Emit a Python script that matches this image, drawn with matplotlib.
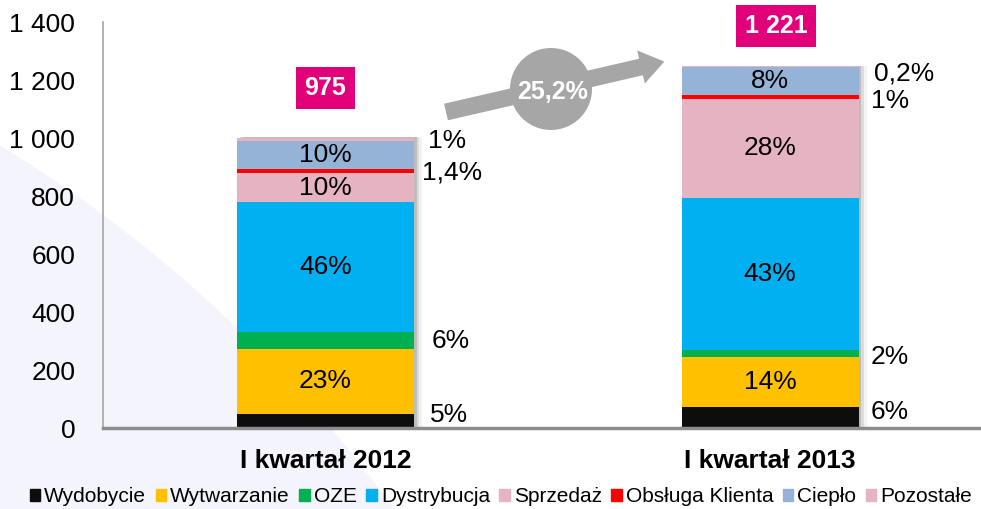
import matplotlib.pyplot as plt
from matplotlib.patches import Circle, FancyArrow, Patch
from matplotlib.ticker import FuncFormatter
import numpy as np

plt.rcParams['font.family'] = ['Liberation Sans', 'DejaVu Sans']

# dane
kwartaly = ['I kwartał 2012', 'I kwartał 2013']
sumy = ['975', '1 221']
zmiana = '25,2%'
segmenty = ['Wydobycie', 'Wytwarzanie', 'OZE', 'Dystrybucja', 'Sprzedaż',
            'Obsługa Klienta', 'Ciepło', 'Pozostałe']
wartosci_2012 = [49, 224, 58, 449, 98, 14, 98, 10]
wartosci_2013 = [73, 171, 24, 525, 342, 12, 98, 2]
procenty_2012 = ['5%', '23%', '6%', '46%', '10%', '1,4%', '10%', '1%']
procenty_2013 = ['6%', '14%', '2%', '43%', '28%', '1%', '8%', '0,2%']

kolory = ['#0d0d0d', '#ffc000', '#00b050', '#00b0f0', '#e6b3c3',
          '#ff0000', '#95b3d7', '#e6b3c3']
w_srodku = [1, 3, 4, 6]          # etykiety wewnatrz slupka
# przesuniecia etykiet bocznych (px): indeks -> (dx, dy)
boczne = [{0: (16, 6), 2: (18, -1), 5: (8, -1), 7: (14, -2)},
          {0: (12, 5), 2: (12, -3), 5: (12, -4), 7: (15, -7)}]

fig = plt.figure(figsize=(9.81, 5.09), dpi=100)

# tlo - jasny okrag
bg = fig.add_axes([0, 0, 1, 1], zorder=-1)
bg.set_xlim(0, 981)
bg.set_ylim(509, 0)
bg.axis('off')
bg.add_patch(Circle((-700, 1300), 1350, color='#f3f4fc', lw=0))

ax = fig.add_axes([103 / 981, 1 - 428 / 509, 1 - 103 / 981, 406 / 509], zorder=1)
ax.set_facecolor('none')

x = np.arange(len(kwartaly))
szer = 0.398
dane = np.array([wartosci_2012, wartosci_2013])
razem = dane.sum(axis=1)

# cien slupkow
for d, a in [(0.018, 0.08), (0.012, 0.15), (0.006, 0.25)]:
    ax.bar(x + d, razem + 3, szer, color='#606060', alpha=a, lw=0, zorder=1)

dol = np.zeros(len(kwartaly))
for i, seg in enumerate(segmenty):
    ax.bar(x, dane[:, i], szer, bottom=dol, color=kolory[i], lw=0, zorder=2, label=seg)
    dol += dane[:, i]

procenty = [procenty_2012, procenty_2013]
for j in range(len(kwartaly)):
    cum = np.concatenate([[0], np.cumsum(dane[j])])
    for i in range(len(segmenty)):
        srodek = (cum[i] + cum[i + 1]) / 2
        if i in w_srodku:
            ax.text(x[j], srodek, procenty[j][i], ha='center', va='center',
                    fontsize=19, color='black', zorder=4)
        else:
            dx, dy = boczne[j][i]
            ax.annotate(procenty[j][i], (x[j] + szer / 2, srodek),
                        xytext=(dx * 0.72, dy * 0.72), textcoords='offset points',
                        ha='left', va='center', fontsize=19, zorder=4)

# sumy w ramkach
poz_sum = [(0.0, 1171), (1.013, 1387)]
for (px, py), s in zip(poz_sum, sumy):
    ax.text(px, py, s, ha='center', va='center', fontsize=18, fontweight='bold',
            color='white', zorder=5,
            bbox=dict(boxstyle='square,pad=0.36', fc='#e2007a', ec='none'))

ax.set_xlim(-0.5, 1.474)
ax.set_ylim(0, 1400)
ax.set_yticks(np.arange(0, 1401, 200))
ax.yaxis.set_major_formatter(FuncFormatter(lambda v, p: f'{v:,.0f}'.replace(',', ' ')))
ax.set_xticks(x)
ax.set_xticklabels(kwartaly, fontsize=19, fontweight='bold')
ax.tick_params(axis='y', length=0, pad=20, labelsize=19)
ax.tick_params(axis='x', length=0, pad=15)
for s in ['top', 'right']:
    ax.spines[s].set_visible(False)
ax.spines['left'].set_color('#a6a6a6')
ax.spines['left'].set_linewidth(1.2)
ax.spines['bottom'].set_color('#8c8c8c')
ax.spines['bottom'].set_linewidth(2.5)

# strzalka ze zmiana
ov = fig.add_axes([0, 0, 1, 1], zorder=3)
ov.set_xlim(0, 981)
ov.set_ylim(509, 0)
ov.axis('off')
ov.add_patch(FancyArrow(446, 112, 195, -45, width=17, head_width=34, head_length=24,
                        length_includes_head=False, color='#a6a6a6', lw=0))
ov.add_patch(Circle((551, 89), 41, color='#a6a6a6', lw=0))
ov.text(553, 92, zmiana, ha='center', va='center', fontsize=18,
        fontweight='bold', color='white')

uchwyty = [Patch(color=k, label=s) for k, s in zip(kolory, segmenty)]
fig.legend(handles=uchwyty, loc='center', bbox_to_anchor=(501 / 981, 1 - 497 / 509),
           ncol=8, frameon=False, fontsize=15, handlelength=0.5, handleheight=0.5,
           handletextpad=0.2, columnspacing=0.45, borderpad=0)

fig.savefig('out.png', dpi=100)
